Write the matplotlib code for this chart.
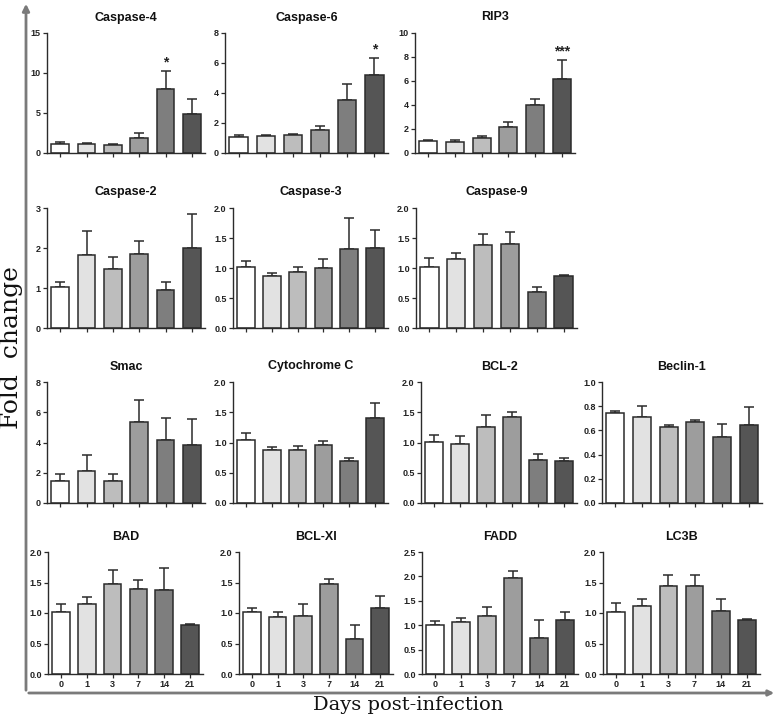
import matplotlib
matplotlib.use("Agg")
import matplotlib.pyplot as plt
from matplotlib.patches import FancyArrowPatch

# ---------------- data ----------------
days = ["0", "1", "3", "7", "14", "21"]

titles = ["Caspase-4", "Caspase-6", "RIP3",
          "Caspase-2", "Caspase-3", "Caspase-9",
          "Smac", "Cytochrome C", "BCL-2", "Beclin-1",
          "BAD", "BCL-Xl", "FADD", "LC3B"]

casp4_mean = [1.09, 1.13, 1.04, 1.84, 7.98, 4.93]
casp4_err = [0.25, 0.08, 0.09, 0.71, 2.30, 1.76]
casp6_mean = [1.07, 1.14, 1.22, 1.54, 3.52, 5.17]
casp6_err = [0.13, 0.03, 0.07, 0.24, 1.11, 1.18]
rip3_mean = [1.03, 0.89, 1.23, 2.14, 3.96, 6.18]
rip3_err = [0.08, 0.17, 0.22, 0.42, 0.55, 1.56]
casp2_mean = [1.03, 1.83, 1.48, 1.85, 0.94, 2.01]
casp2_err = [0.12, 0.60, 0.29, 0.33, 0.22, 0.84]
casp3_mean = [1.02, 0.87, 0.93, 1.00, 1.32, 1.33]
casp3_err = [0.09, 0.05, 0.08, 0.15, 0.51, 0.30]
casp9_mean = [1.02, 1.15, 1.38, 1.40, 0.60, 0.87]
casp9_err = [0.14, 0.10, 0.19, 0.20, 0.09, 0.02]
smac_mean = [1.43, 2.09, 1.43, 5.33, 4.14, 3.85]
smac_err = [0.49, 1.06, 0.51, 1.50, 1.45, 1.68]
cytc_mean = [1.04, 0.88, 0.88, 0.96, 0.70, 1.41]
cytc_err = [0.12, 0.04, 0.07, 0.07, 0.04, 0.25]
bcl2_mean = [1.01, 0.97, 1.26, 1.42, 0.71, 0.70]
bcl2_err = [0.11, 0.13, 0.20, 0.08, 0.10, 0.04]
beclin_mean = [0.745, 0.71, 0.63, 0.667, 0.546, 0.648]
beclin_err = [0.015, 0.09, 0.015, 0.02, 0.11, 0.142]
bad_mean = [1.01, 1.14, 1.48, 1.40, 1.38, 0.81]
bad_err = [0.13, 0.12, 0.23, 0.14, 0.35, 0.015]
bclxl_mean = [1.01, 0.93, 0.945, 1.47, 0.57, 1.09]
bclxl_err = [0.08, 0.09, 0.205, 0.09, 0.23, 0.19]
fadd_mean = [1.00, 1.06, 1.19, 1.96, 0.73, 1.11]
fadd_err = [0.08, 0.09, 0.18, 0.15, 0.37, 0.17]
lc3b_mean = [1.01, 1.11, 1.44, 1.44, 1.04, 0.89]
lc3b_err = [0.15, 0.12, 0.18, 0.18, 0.19, 0.01]

means = [casp4_mean, casp6_mean, rip3_mean, casp2_mean, casp3_mean, casp9_mean,
         smac_mean, cytc_mean, bcl2_mean, beclin_mean, bad_mean, bclxl_mean,
         fadd_mean, lc3b_mean]
errs = [casp4_err, casp6_err, rip3_err, casp2_err, casp3_err, casp9_err,
        smac_err, cytc_err, bcl2_err, beclin_err, bad_err, bclxl_err,
        fadd_err, lc3b_err]

ymax = [15, 8, 10, 3, 2, 2, 8, 2, 2, 1.0, 2, 2, 2.5, 2]
ystep = [5, 2, 2, 1, 0.5, 0.5, 2, 0.5, 0.5, 0.2, 0.5, 0.5, 0.5, 0.5]
ydec = [0, 0, 0, 0, 1, 1, 0, 1, 1, 1, 1, 1, 1, 1]

stars = {0: (4, "*"), 1: (5, "*"), 2: (5, "***")}

# ---------------- layout (pixels: left, right, top, bottom) ----------------
W, H = 778, 717
boxes = [(47, 205, 33, 153), (225, 388, 33, 153), (415, 575, 33, 153),
         (47, 205, 208, 328), (233, 388, 208, 328), (416, 577, 208, 328),
         (47, 205, 382, 503), (233, 388, 382, 503), (421, 577, 382, 503), (602, 762, 382, 503),
         (48, 203, 552, 674), (239, 393, 552, 674), (422, 578, 552, 674), (603, 760, 552, 674)]

bar_colors = ["#ffffff", "#e2e2e2", "#bdbdbd", "#9d9d9d", "#7e7e7e", "#555555"]
edge = "#2b2b2b"

plt.rcParams['font.family'] = ['Liberation Sans', 'DejaVu Sans']

fig = plt.figure(figsize=(W / 100, H / 100), dpi=100)
fig.patch.set_facecolor("white")

for i, (l, r, t, b) in enumerate(boxes):
    ax = fig.add_axes([l / W, 1 - b / H, (r - l) / W, (b - t) / H])
    x = list(range(len(days)))
    ax.bar(x, means[i], width=0.68, color=bar_colors, edgecolor=edge, linewidth=1.1, zorder=2)
    ax.errorbar(x, means[i], yerr=[[0] * len(x), errs[i]], fmt="none",
                ecolor=edge, elinewidth=1.1, capsize=3.6, capthick=1.1, zorder=1)
    ax.set_xlim(-0.5, 5.5)
    ax.set_ylim(0, ymax[i])
    n = int(round(ymax[i] / ystep[i]))
    ticks = [k * ystep[i] for k in range(n + 1)]
    ax.set_yticks(ticks)
    if ydec[i]:
        ax.set_yticklabels([f"{v:.1f}" for v in ticks])
    else:
        ax.set_yticklabels([f"{v:.0f}" for v in ticks])
    ax.set_xticks(x)
    if i >= 10:
        ax.set_xticklabels(days)
    else:
        ax.set_xticklabels([])
    for s in ["top", "right"]:
        ax.spines[s].set_visible(False)
    for s in ["left", "bottom"]:
        ax.spines[s].set_color(edge)
        ax.spines[s].set_linewidth(1.0)
    ax.tick_params(axis="both", direction="out", length=3, width=0.9, color=edge,
                   labelsize=6.5, pad=1.5)
    for lab in ax.get_xticklabels() + ax.get_yticklabels():
        lab.set_fontweight("bold")
        lab.set_color("#222222")
    ax.set_title(titles[i], fontsize=9, fontweight="bold", pad=9, color="#111111")
    if i in stars:
        k, s = stars[i]
        ax.annotate(s, (k, means[i][k] + errs[i][k]), xytext=(0, 1),
                    textcoords="offset points", ha="center", va="bottom",
                    fontsize=10, fontweight="bold", color="#222222")

# big axis arrows
axline = "#7a7a7a"
fig.add_artist(FancyArrowPatch((26 / W, 1 - 693 / H), (26 / W, 1 - 1 / H),
                               transform=fig.transFigure, arrowstyle="-|>",
                               mutation_scale=10, color=axline, linewidth=2))
fig.add_artist(FancyArrowPatch((26 / W, 1 - 693 / H), (777 / W, 1 - 693 / H),
                               transform=fig.transFigure, arrowstyle="-|>",
                               mutation_scale=8, color=axline, linewidth=2))

fig.text(12 / W, 1 - 348 / H, "Fold  change", rotation=90, ha="center", va="center",
         fontsize=18, family=["DejaVu Serif"], color="#111111")
fig.text(408 / W, 1 - 705 / H, "Days post-infection", ha="center", va="center",
         fontsize=14, family=["DejaVu Serif"], color="#111111")

fig.savefig("out.png", dpi=100, facecolor="white")
